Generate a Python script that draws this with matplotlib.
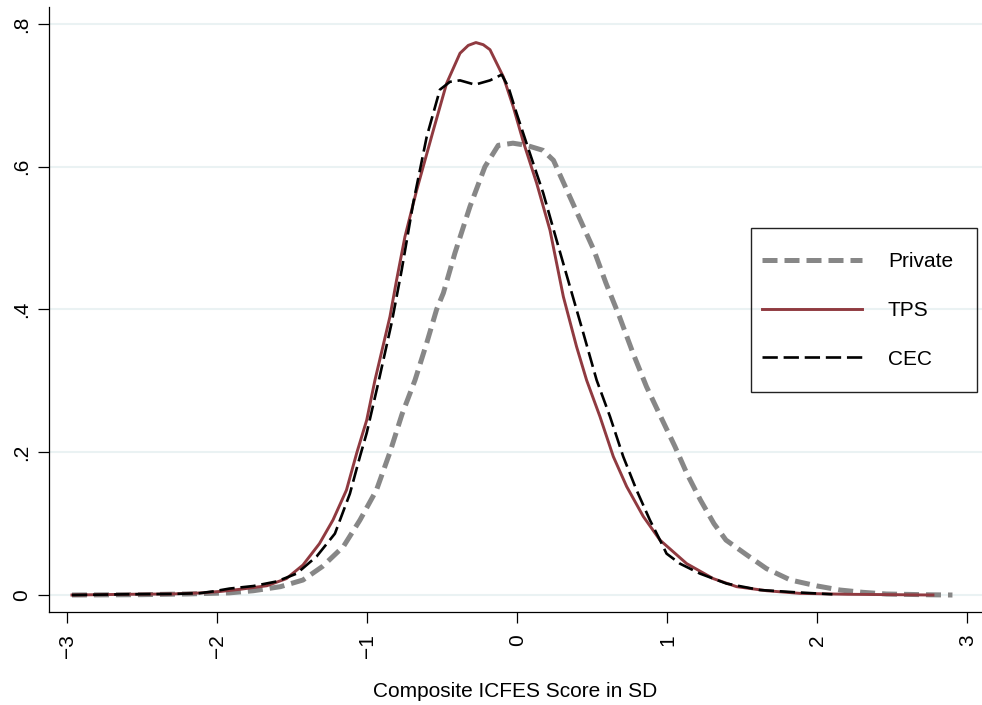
import numpy as np
import matplotlib
matplotlib.use("Agg")
from matplotlib import pyplot as plt
from matplotlib.patches import Rectangle

plt.rcParams['font.family'] = ['Liberation Sans', 'DejaVu Sans']

# Kernel density curves (x in SD, y = density)
private_x = [-2.97, -2.5, -2.2, -1.92, -1.76, -1.58, -1.43, -1.30, -1.16, -1.05, -0.94, -0.85,
             -0.77, -0.683, -0.605, -0.539, -0.494, -0.417, -0.317, -0.217, -0.128, -0.03, 0.06,
             0.17, 0.24, 0.33, 0.42, 0.51, 0.59, 0.68, 0.77, 0.86, 0.95, 1.05, 1.13, 1.22, 1.31,
             1.39, 1.53, 1.66, 1.82, 2.0, 2.15, 2.3, 2.46, 2.75, 2.9]
private_y = [0, 0.0005, 0.0015, 0.003, 0.006, 0.0117, 0.021, 0.040, 0.068, 0.105, 0.147, 0.200,
             0.253, 0.301, 0.353, 0.400, 0.423, 0.479, 0.544, 0.600, 0.630, 0.633, 0.630,
             0.623, 0.609, 0.567, 0.525, 0.483, 0.437, 0.390, 0.339, 0.292, 0.252, 0.208, 0.170,
             0.133, 0.100, 0.077, 0.056, 0.037, 0.021, 0.0126, 0.007, 0.0038, 0.0014, 0.0003, 0]

tps_x = [-2.97, -2.6, -2.3, -2.1, -1.98, -1.85, -1.67, -1.54, -1.43, -1.32, -1.23, -1.14, -1.07,
         -1.005, -0.95, -0.85, -0.806, -0.75, -0.672, -0.561, -0.472, -0.383, -0.328, -0.277,
         -0.228, -0.183, -0.094, -0.028, 0.039, 0.128, 0.217, 0.306, 0.394, 0.461, 0.55, 0.639,
         0.728, 0.839, 0.95, 1.128, 1.305, 1.461, 1.661, 1.883, 2.2, 2.5, 2.77]
tps_y = [0, 0.001, 0.0015, 0.003, 0.005, 0.008, 0.013, 0.023, 0.042, 0.072, 0.105, 0.147, 0.200,
         0.245, 0.301, 0.390, 0.441, 0.502, 0.567, 0.651, 0.717, 0.759, 0.770, 0.774,
         0.771, 0.764, 0.726, 0.684, 0.635, 0.577, 0.511, 0.418, 0.348, 0.301, 0.250, 0.194,
         0.152, 0.110, 0.077, 0.044, 0.023, 0.0117, 0.006, 0.0023, 0.001, 0.0005, 0]

cec_x = [-2.97, -2.6, -2.3, -2.12, -2.03, -1.92, -1.76, -1.605, -1.472, -1.339, -1.217, -1.117,
         -1.05, -1.005, -0.928, -0.839, -0.772, -0.695, -0.605, -0.517, -0.45, -0.383, -0.283,
         -0.183, -0.105, -0.061, -0.006, 0.065, 0.172, 0.261, 0.35, 0.439, 0.528, 0.617, 0.705,
         0.794, 0.883, 0.95, 0.994, 1.083, 1.217, 1.394, 1.617, 1.84, 2.1]
cec_y = [0, 0.001, 0.0015, 0.0025, 0.005, 0.009, 0.0126, 0.019, 0.030, 0.054, 0.086, 0.142,
         0.194, 0.227, 0.297, 0.381, 0.455, 0.549, 0.642, 0.708, 0.719, 0.721, 0.715,
         0.721, 0.729, 0.712, 0.675, 0.630, 0.563, 0.497, 0.432, 0.367, 0.301, 0.250, 0.194,
         0.147, 0.105, 0.077, 0.058, 0.044, 0.030, 0.016, 0.007, 0.004, 0.001]

x_ticks = [-3, -2, -1, 0, 1, 2, 3]
x_tick_labels = ['\u22123', '\u22122', '\u22121', '0', '1', '2', '3']
y_ticks = [0, 0.2, 0.4, 0.6, 0.8]
y_tick_labels = ['0', '.2', '.4', '.6', '.8']
series_names = ['Private', 'TPS', 'CEC']

W, H = 982, 705
fig = plt.figure(figsize=(W / 100, H / 100), dpi=100)
fig.patch.set_facecolor('white')

# plot region in pixels: left spine at 49, bottom spine at 612, top at 7, runs to the right edge
ax = fig.add_axes([49 / W, (H - 612) / H, (W - 49) / W, (612 - 7) / H])

ax.plot(private_x, private_y, color='#878787', lw=3.6, dashes=(3.0, 1.4),
        solid_joinstyle='round', label=series_names[0])
ax.plot(tps_x, tps_y, color='#903A40', lw=2.1, solid_joinstyle='round', label=series_names[1])
ax.plot(cec_x, cec_y, color='black', lw=1.9, dashes=(5.8, 2.2), label=series_names[2])

ax.set_xlim(-3.123, 3.097)
ax.set_ylim(-0.0238, 0.8238)

ax.set_xticks(x_ticks)
ax.set_xticklabels(x_tick_labels, rotation=90)
ax.set_yticks(y_ticks)
ax.set_yticklabels(y_tick_labels, rotation=90, va='center')

ax.tick_params(axis='both', length=8, width=0.9, labelsize=15, color='black')
ax.tick_params(axis='x', pad=8)
ax.tick_params(axis='y', pad=5)

ax.yaxis.grid(True, color='#EAF2F3', lw=1.5)
ax.xaxis.grid(False)
ax.set_axisbelow(True)

for side in ['top', 'right']:
    ax.spines[side].set_visible(False)
for side in ['left', 'bottom']:
    ax.spines[side].set_linewidth(0.9)

ax.set_xlabel('Composite ICFES Score in SD', fontsize=15, labelpad=17)

# legend: no matplotlib frame, box drawn by hand to match the reference's padding
leg = ax.legend(loc='center', bbox_to_anchor=(857.5 / W, 1 - 310.5 / H),
                bbox_transform=fig.transFigure, frameon=False, fontsize=15,
                handlelength=4.8, handletextpad=1.25, labelspacing=1.42)
fig.patches.append(Rectangle((751 / W, 1 - 392 / H), 226 / W, 164 / H,
                             transform=fig.transFigure, fill=False,
                             edgecolor='#222222', lw=1.0))

fig.savefig('out.png', dpi=100)
